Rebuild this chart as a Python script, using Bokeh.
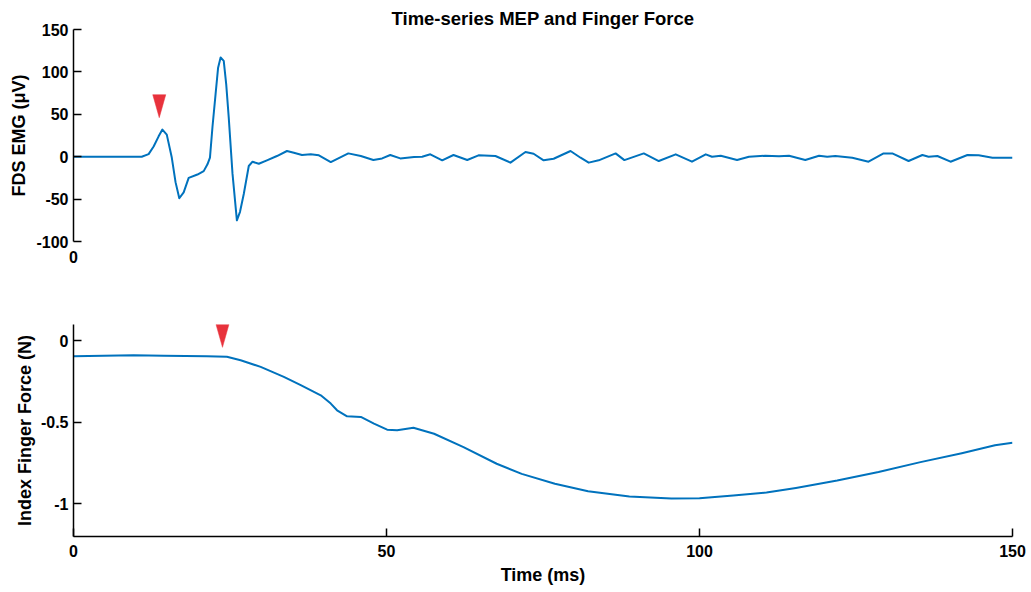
from bokeh.plotting import figure
from bokeh.layouts import column
from bokeh.models import FixedTicker
from bokeh.embed import file_html
from bokeh.resources import INLINE

# ---------------- data ----------------
title_text = "Time-series MEP and Finger Force"

emg_t = [0, 10.9, 12.0, 12.8, 13.6, 14.2, 14.9, 15.7, 16.3, 16.9,
         17.6, 18.4, 19.8, 20.8, 21.4, 21.8, 22.2, 22.7, 23.1, 23.5,
         24.0, 24.4, 24.8, 25.4, 26.1, 26.6, 27.2, 28.0, 28.6, 29.6,
         30.9, 32.5, 34.1, 35.2, 36.5, 37.9, 39.2, 41.1, 42.7, 43.9,
         45.9, 47.9, 49.3, 50.6, 52.2, 54.4, 55.7, 57.0, 58.9, 60.7,
         62.9, 64.7, 67.4, 69.8, 72.2, 73.5, 75.1, 76.7, 79.4, 81.0,
         82.3, 83.9, 86.6, 88.0, 91.1, 93.5, 96.2, 98.8, 101.0, 102.0,
         103.4, 106.0, 107.9, 110.5, 112.7, 114.3, 116.9, 119.1, 120.4, 121.7,
         124.4, 127.0, 129.4, 130.8, 133.4, 135.6, 136.6, 138.0, 140.1, 142.8,
         144.6, 146.8, 150]
emg_uv = [0, 0, 3, 12, 24, 32, 26, -1, -30, -49,
          -42, -25, -21, -17, -9, -1, 35, 74, 105, 117,
          113, 85, 46, -20, -75, -65, -44, -11, -5.9, -8.3,
          -4.3, 0.8, 6.7, 4.7, 2, 2.8, 1.6, -6.3, -0.4, 3.9,
          0.8, -3.9, -2, 2, -2, -0.4, 0, 2.8, -4.3, 2,
          -3.9, 1.6, 0.8, -7, 5.5, 3.5, -4.3, -2.4, 6.7, -1.2,
          -7, -4.3, 3.9, -4, 3.9, -5.1, 2.8, -5.9, 2.8, 0,
          1.2, -3.9, 0, 1.2, 0.4, 1.2, -3.9, 1.2, 0, 0.8,
          -1.2, -5.9, 3.9, 3.9, -5.1, 2, 0, 0.8, -5.9, 2,
          1.6, -1.2, -1.2]

force_t = [0, 9.6, 14.4, 21.3, 24.5, 26.7, 29.9, 33.6, 36.3, 39.5,
           41.1, 42.1, 43.7, 45.9, 48.0, 50.1, 51.7, 54.3, 57.6, 62.3,
           67.6, 71.6, 76.9, 82.2, 88.8, 95.5, 100, 105.4, 110.7, 115.4,
           122.0, 128.6, 135.3, 141.9, 147.2, 150]
force_n = [-0.094, -0.088, -0.092, -0.094, -0.098, -0.119, -0.16, -0.221, -0.272, -0.334,
           -0.385, -0.426, -0.463, -0.467, -0.508, -0.545, -0.549, -0.533, -0.570, -0.652,
           -0.754, -0.816, -0.877, -0.922, -0.955, -0.967, -0.965, -0.949, -0.930, -0.902,
           -0.857, -0.805, -0.744, -0.689, -0.641, -0.625]

# onset markers (tip position)
emg_onset_t = [13.7]
emg_onset_tip = [46]
force_onset_t = [23.8]
force_onset_tip = [-0.04]

x_ticks = [0, 50, 100, 150]
emg_yticks = [-100, -50, 0, 50, 100, 150]
emg_ylabels = ["-100", "-50", "0", "50", "100", "150"]
force_yticks = [-1, -0.5, 0]
force_ylabels = ["-1", "-0.5", "0"]

# ---------------- style ----------------
FONT = "Liberation Sans"
BLUE = "#0072BD"
RED = "#E8323C"
W = 1031
LEFT, RIGHT = 73, 19
FRAME_W = W - LEFT - RIGHT
FRAME_H = 212
TRI_W_PX, TRI_H_PX = 13, 23


def style_axis(ax):
    ax.axis_line_color = "black"
    ax.axis_line_width = 1.5
    ax.major_tick_line_color = "black"
    ax.major_tick_line_width = 1.5
    ax.major_tick_in = 8
    ax.major_tick_out = 0
    ax.minor_tick_line_color = None
    ax.major_label_text_font = FONT
    ax.major_label_text_font_style = "bold"
    ax.major_label_text_font_size = "16px"
    ax.major_label_text_color = "black"
    ax.axis_label_text_font = FONT
    ax.axis_label_text_font_style = "bold"
    ax.axis_label_text_font_size = "18px"
    ax.axis_label_text_color = "black"


def triangle(p, xs, tips, yrange):
    dx = TRI_W_PX / 2 * 150 / FRAME_W
    dy = TRI_H_PX * (yrange[1] - yrange[0]) / FRAME_H
    px = [[x - dx, x + dx, x] for x in xs]
    py = [[t + dy, t + dy, t] for t in tips]
    p.patches(px, py, fill_color=RED, line_color=RED, line_width=0.5)


# ---------------- top panel ----------------
emg_range = (-100, 150)
p1 = figure(width=W, height=290, x_range=(0, 150), y_range=emg_range,
            output_backend="svg", toolbar_location=None,
            min_border_left=LEFT, min_border_right=RIGHT,
            min_border_top=29, min_border_bottom=49)
p1.title.text = title_text
p1.title.align = "center"
p1.title.text_font = FONT
p1.title.text_font_style = "bold"
p1.title.text_font_size = "18.5px"
p1.title.text_color = "black"
p1.title.standoff = 1
p1.title.offset = 0

p1.line(emg_t, emg_uv, line_color=BLUE, line_width=2, line_join="round")
triangle(p1, emg_onset_t, emg_onset_tip, emg_range)

p1.grid.visible = False
p1.outline_line_color = None
style_axis(p1.xaxis[0])
style_axis(p1.yaxis[0])
p1.xaxis.ticker = FixedTicker(ticks=[0])
p1.xaxis.axis_line_color = None
p1.xaxis.major_tick_line_color = None
p1.xaxis.major_label_standoff = 9
p1.yaxis.ticker = FixedTicker(ticks=emg_yticks)
p1.yaxis.major_label_overrides = {t: s for t, s in zip(emg_yticks, emg_ylabels)}
p1.yaxis.major_label_standoff = 5
p1.yaxis.axis_label = "FDS EMG (\u03bcV)"
p1.yaxis.axis_label_standoff = 4

# ---------------- bottom panel ----------------
force_range = (-1.2, 0.1)
p2 = figure(width=W, height=302, x_range=(0, 150), y_range=force_range,
            output_backend="svg", toolbar_location=None,
            min_border_left=LEFT, min_border_right=RIGHT,
            min_border_top=34, min_border_bottom=56)
p2.line(force_t, force_n, line_color=BLUE, line_width=2, line_join="round")
triangle(p2, force_onset_t, force_onset_tip, force_range)

p2.grid.visible = False
p2.outline_line_color = None
style_axis(p2.xaxis[0])
style_axis(p2.yaxis[0])
p2.xaxis.ticker = FixedTicker(ticks=x_ticks)
p2.xaxis.major_label_standoff = 8
p2.xaxis.axis_label = "Time (ms)"
p2.xaxis.axis_label_standoff = 5
p2.yaxis.ticker = FixedTicker(ticks=force_yticks)
p2.yaxis.major_label_overrides = {t: s for t, s in zip(force_yticks, force_ylabels)}
p2.yaxis.major_label_standoff = 5
p2.yaxis.axis_label = "Index Finger Force (N)"
p2.yaxis.axis_label_standoff = 3

layout = column(p1, p2, spacing=0)
open("out.html", "w").write(file_html(layout, INLINE))
